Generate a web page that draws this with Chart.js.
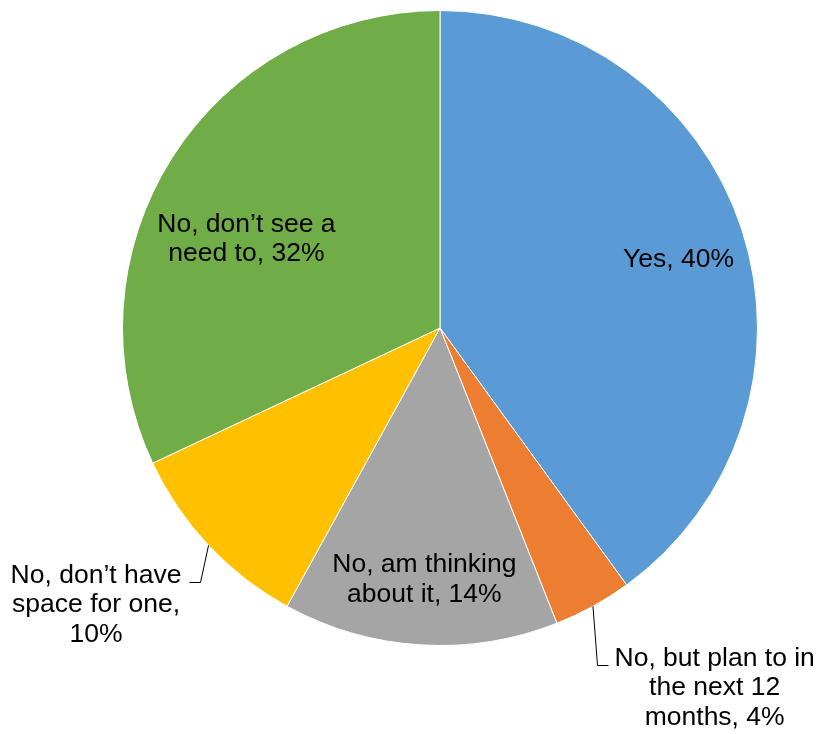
<!DOCTYPE html>
<html>
<head>
<meta charset="utf-8">
<script src="https://cdn.jsdelivr.net/npm/chart.js@4.4.1/dist/chart.umd.min.js"></script>
<style>
  html, body { margin: 0; padding: 0; background: #ffffff; }
  #wrap { width: 816px; height: 734px; position: relative; }
</style>
</head>
<body>
<div id="wrap"><canvas id="pieChart"></canvas></div>
<script>
// Survey answers, clockwise from 12 o'clock
var categories = [
  'Yes',
  'No, but plan to in the next 12 months',
  'No, am thinking about it',
  'No, don’t have space for one',
  'No, don’t see a need to'
];
var shares = [40, 4, 14, 10, 32];
var sliceColors = ['#5B9BD5', '#ED7D31', '#A5A5A5', '#FFC000', '#70AD47'];

// Label styling
var LABEL_FONT = '26.5px "Liberation Sans", Arial, sans-serif';
var LINE_HEIGHT = 29.5;
var CAP_SHIFT = 9.5;   // baseline offset from a line's visual middle

// Where each slice's label goes: inside at a fraction of the radius,
// or outside with a bent leader line
var LABEL_LAYOUT = [
  { inside: true, r: 0.78, dx: 3, dy: 6, wrap: 300 },
  { inside: false, lean: 4, drop: 59, tail: 11, side: 1, gap: 6, wrap: 205 },
  { inside: true, r: 0.787, dx: 0, dy: 0, wrap: 195 },
  { inside: false, lean: -9, drop: 37, tail: 11, side: -1, gap: 8, wrap: 178 },
  { inside: true, r: 0.67, dx: -14, dy: 23, wrap: 185 }
];

function wrapText(ctx, text, maxWidth) {
  var words = text.split(' ');
  var lines = [];
  var cur = '';
  words.forEach(function(w) {
    var test = cur ? cur + ' ' + w : w;
    if (cur && ctx.measureText(test).width > maxWidth) {
      lines.push(cur);
      cur = w;
    } else {
      cur = test;
    }
  });
  if (cur) lines.push(cur);
  return lines;
}

var sliceLabels = {
  id: 'sliceLabels',
  afterDatasetsDraw: function(chart) {
    var ctx = chart.ctx;
    var arcs = chart.getDatasetMeta(0).data;
    ctx.save();
    ctx.font = LABEL_FONT;
    ctx.fillStyle = '#000000';
    ctx.strokeStyle = '#000000';
    ctx.lineWidth = 1;
    ctx.textAlign = 'center';
    ctx.textBaseline = 'alphabetic';

    arcs.forEach(function(arc, i) {
      var p = arc.getProps(['x', 'y', 'startAngle', 'endAngle', 'outerRadius'], true);
      var mid = (p.startAngle + p.endAngle) / 2;
      var cos = Math.cos(mid), sin = Math.sin(mid);
      var lay = LABEL_LAYOUT[i];
      var lines = wrapText(ctx, categories[i] + ', ' + shares[i] + '%', lay.wrap);
      var maxW = Math.max.apply(null, lines.map(function(l) { return ctx.measureText(l).width; }));

      if (lay.inside) {
        var cx = p.x + cos * p.outerRadius * lay.r + lay.dx;
        var cy = p.y + sin * p.outerRadius * lay.r + lay.dy;
        var top = cy - (lines.length - 1) * LINE_HEIGHT / 2;
        lines.forEach(function(l, k) {
          ctx.fillText(l, cx, top + k * LINE_HEIGHT + CAP_SHIFT);
        });
      } else {
        var ex = p.x + cos * p.outerRadius;
        var ey = p.y + sin * p.outerRadius;
        var bx = Math.round(ex + lay.lean) + 0.5;
        var by = Math.round(ey + lay.drop) + 0.5;
        var tx = bx + lay.side * lay.tail;
        ctx.beginPath();
        ctx.moveTo(ex, ey);
        ctx.lineTo(bx, by);
        ctx.lineTo(tx, by);
        ctx.stroke();
        var lx = tx + lay.side * (lay.gap + maxW / 2);
        lines.forEach(function(l, k) {
          ctx.fillText(l, lx, by + k * LINE_HEIGHT);
        });
      }
    });
    ctx.restore();
  }
};

var ctx = document.getElementById('pieChart').getContext('2d');
new Chart(ctx, {
  type: 'pie',
  data: {
    labels: categories,
    datasets: [{
      data: shares,
      backgroundColor: sliceColors,
      borderColor: '#ffffff',
      borderWidth: 1,
      hoverOffset: 0,
      offset: 0
    }]
  },
  options: {
    responsive: true,
    maintainAspectRatio: false,
    animation: false,
    events: [],
    layout: { padding: { top: 10, bottom: 88, left: 122, right: 58 } },
    plugins: {
      legend: { display: false },
      tooltip: { enabled: false },
      title: { display: false }
    }
  },
  plugins: [sliceLabels]
});
</script>
</body>
</html>
